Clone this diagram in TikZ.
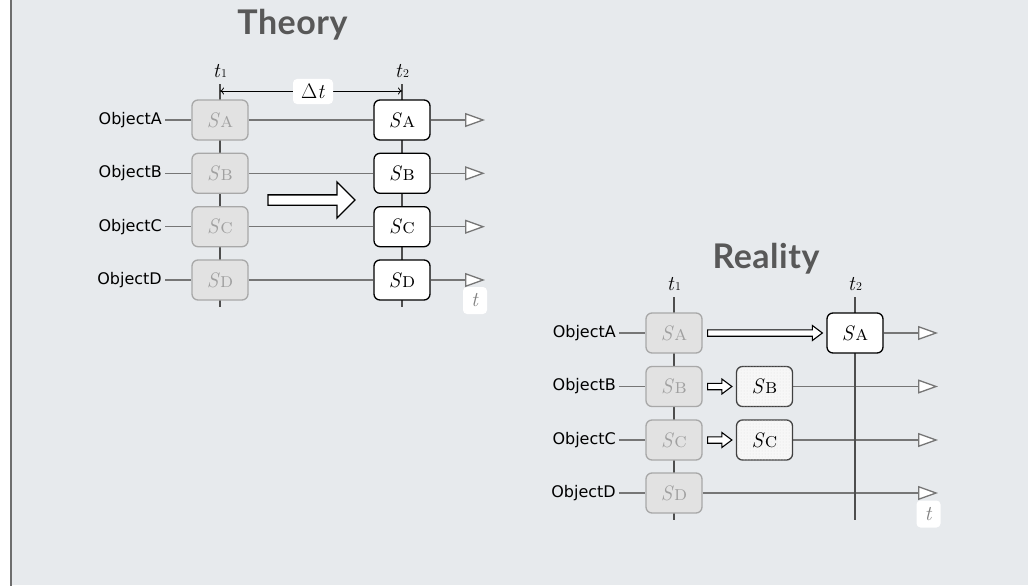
\documentclass[tikz,border=0pt]{standalone}
\usepackage{fontspec}
\newfontfamily\labelfont{DejaVu Sans}
\newfontfamily\titlefont[LetterSpace=1.5]{Lato}
\usetikzlibrary{arrows.meta,patterns,calc}

\definecolor{bgcol}{RGB}{231,234,237}
\definecolor{framecol}{RGB}{110,110,110}
\definecolor{rowcol}{RGB}{118,118,118}
\definecolor{axiscol}{RGB}{78,78,78}
\definecolor{ghostfill}{RGB}{226,226,226}
\definecolor{ghostdraw}{RGB}{168,168,168}
\definecolor{ghosttext}{RGB}{160,160,160}
\definecolor{headcol}{RGB}{88,88,88}

\pgfdeclarelayer{bglayer}
\pgfdeclarelayer{rowlayer}
\pgfdeclarelayer{axislayer}
\pgfsetlayers{bglayer,rowlayer,axislayer,main}

\tikzset{
  objlabel/.style={anchor=east, inner sep=3pt, font=\labelfont\fontsize{16}{18}\selectfont},
  statebox/.style={rounded corners=6pt, minimum width=56pt, minimum height=40pt,
    inner sep=0pt, line width=1.3pt, font=\fontsize{21}{23}\selectfont},
  ghost/.style={statebox, draw=ghostdraw, fill=ghostfill, text=ghosttext},
  final/.style={statebox, draw=black, fill=white, text=black},
  moved/.style={statebox, draw=black!75, fill=white!97!black,
    postaction={pattern=dots, pattern color=black!12}},
  row/.style={draw=rowcol, line width=1.3pt},
  rowend/.style={row, -{Triangle[length=20pt,width=14pt,fill=white]}},
  timeline/.style={draw=axiscol, line width=1.4pt},
  tname/.style={inner sep=0pt, font=\fontsize{21}{23}\selectfont},
  tbox/.style={fill=white, rounded corners=4pt, minimum width=24pt, minimum height=27pt,
    inner sep=0pt, text=black!50, font=\fontsize{21}{23}\selectfont},
  heading/.style={anchor=base, font=\titlefont\bfseries\fontsize{34}{38}\selectfont,
    text=headcol, inner sep=0pt},
}

% hollow arrow between two points at the height of the first one
\newcommand\hollowarrow[2]{%
  \draw[line width=1.1pt, fill=white, line join=miter]
    let \p1=(#1), \p2=(#2) in
    (\x1,\y1+3.2pt) -- (\x2-10pt,\y1+3.2pt) -- (\x2-10pt,\y1+7.5pt) -- (\x2,\y1)
    -- (\x2-10pt,\y1-7.5pt) -- (\x2-10pt,\y1-3.2pt) -- (\x1,\y1-3.2pt) -- cycle;}

% state name: italic S with a small-capital index
\newcommand\st[1]{\textit{S}\kern0.3pt\textsc{#1}}
% instant name: italic t with a small index digit
\newcommand\inst[1]{\textit{t}\kern0.5pt{\fontsize{12}{12}\selectfont #1}}

\begin{document}
\begin{tikzpicture}[x=1pt,y=-1pt]
\useasboundingbox (0,0) rectangle (1028,586);

\begin{pgfonlayer}{bglayer}
  \fill[white] (0,0) rectangle (1028,586);
  \fill[bgcol] (12,0) rectangle (1028,585);
  \draw[framecol, line width=2pt] (11,0) -- (11,586);
\end{pgfonlayer}

% ---------------- Theory ----------------
\node[heading] (thTitle) at (292.5,35) {Theory};

\node[tname] (thT1) at (220,71) {\inst{1}};
\node[tname] (thT2) at (402,71) {\inst{2}};
\coordinate (thT1top) at (220,84);
\coordinate (thT1bot) at (220,307);
\coordinate (thT2top) at (402,84);
\coordinate (thT2bot) at (402,307);

\foreach \r/\s/\y in {A/a/120,B/b/173.3,C/c/226.7,D/d/280}{
  \node[objlabel] (thL\r) at (165,\y) {Object\r};
  \node[ghost] (thG\r) at (220,\y) {\st{\s}};
  \node[final] (thF\r) at (402,\y) {\st{\s}};
  \coordinate (thE\r) at (485,\y);
}

\begin{pgfonlayer}{axislayer}
  \draw[timeline] (thT1top) -- (thT1bot);
  \draw[timeline] (thT2top) -- (thT2bot);
\end{pgfonlayer}

\begin{pgfonlayer}{rowlayer}
\foreach \r in {A,B,C,D}{
  \draw[row] (thL\r) -- (thG\r);
  \draw[row] (thG\r) -- (thF\r);
  \draw[rowend] (thF\r) -- (thE\r);
}
\end{pgfonlayer}

% interval between the two instants
\coordinate (thD1) at (220,91);
\coordinate (thD2) at (402,91);
\draw[line width=0.8pt, {To[length=4pt,width=7pt]}-{To[length=4pt,width=7pt]}] (thD1) -- (thD2);
\node[fill=white, rounded corners=4pt, minimum width=40pt, minimum height=25pt,
  inner sep=0pt, font=\fontsize{21}{23}\selectfont] (thDelta) at (313,91.5) {Δ\textit{t}};

% block arrow
\draw[line width=1.4pt, fill=white, line join=miter]
  (268,194.8) -- (337,194.8) -- (337,182) -- (355,200) -- (337,218)
  -- (337,205.2) -- (268,205.2) -- cycle;

\node[tbox] (thTime) at (475,300.5) {\textit{t}};

% ---------------- Reality ----------------
\node[heading] (reTitle) at (766,268) {Reality};

\node[tname] (reT1) at (674,284) {\inst{1}};
\node[tname] (reT2) at (855,284) {\inst{2}};
\coordinate (reT1top) at (674,297);
\coordinate (reT1bot) at (674,520);
\coordinate (reT2top) at (855,297);
\coordinate (reT2bot) at (855,520);

\foreach \r/\s/\y in {A/a/333,B/b/386.5,C/c/440,D/d/493}{
  \node[objlabel] (reL\r) at (619,\y) {Object\r};
  \node[ghost] (reG\r) at (674,\y) {\st{\s}};
  \coordinate (reE\r) at (938,\y);
}
\node[final] (reFA) at (855,333) {\st{a}};
\node[moved] (reFB) at (764.5,386.5) {\st{b}};
\node[moved] (reFC) at (764.5,440) {\st{c}};

\begin{pgfonlayer}{axislayer}
  \draw[timeline] (reT1top) -- (reT1bot);
  \draw[timeline] (reT2top) -- (reT2bot);
\end{pgfonlayer}

\begin{pgfonlayer}{rowlayer}
\foreach \r in {A,B,C,D}{
  \draw[row] (reL\r) -- (reG\r);
}
\draw[rowend] (reFA) -- (reEA);
\draw[rowend] (reFB) -- (reEB);
\draw[rowend] (reFC) -- (reEC);
\draw[rowend] (reGD) -- (reED);
\end{pgfonlayer}

\hollowarrow{$(reGA.east)+(5,0)$}{$(reFA.west)+(-4,0)$}
\hollowarrow{$(reGB.east)+(5,0)$}{$(reFB.west)+(-4,0)$}
\hollowarrow{$(reGC.east)+(5,0)$}{$(reFC.west)+(-4,0)$}

\node[tbox] (reTime) at (928.5,514) {\textit{t}};
\end{tikzpicture}
\end{document}
